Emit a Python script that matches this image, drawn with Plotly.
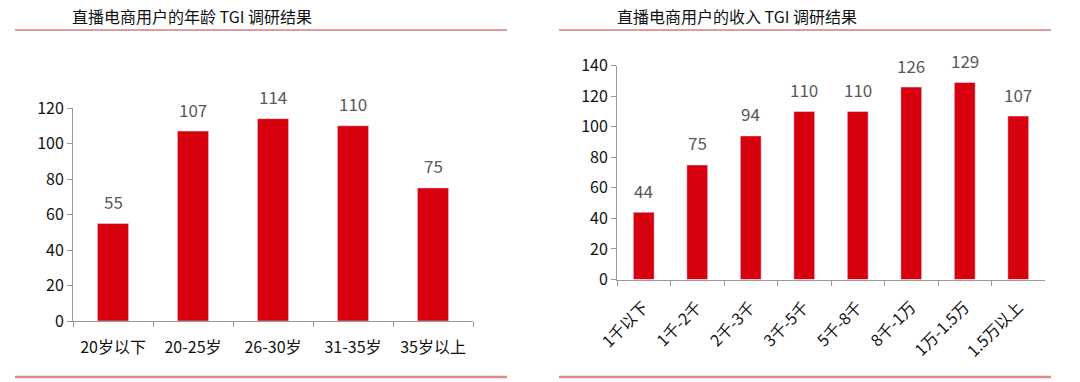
import plotly.graph_objects as go

W, H = 1080, 382

age_cats = ["20岁以下", "20-25岁", "26-30岁", "31-35岁", "35岁以上"]
age_vals = [55, 107, 114, 110, 75]
inc_cats = ["1千以下", "1千-2千", "2千-3千", "3千-5千", "5千-8千", "8千-1万", "1万-1.5万", "1.5万以上"]
inc_vals = [44, 75, 94, 110, 110, 126, 129, 107]
left_title = "直播电商用户的年龄 TGI 调研结果"
right_title = "直播电商用户的收入 TGI 调研结果"

BAR = "#d7000f"
AX = "#9a9a9a"
FONT = "Noto Sans CJK SC, Liberation Sans, sans-serif"

def px(x):
    return x / W

def py(y):
    return 1 - y / H

fig = go.Figure()
fig.add_trace(go.Bar(x=age_cats, y=age_vals, marker_color=BAR, width=0.39,
                     xaxis="x", yaxis="y", showlegend=False))
fig.add_trace(go.Bar(x=inc_cats, y=inc_vals, marker_color=BAR, width=0.39,
                     xaxis="x2", yaxis="y2", showlegend=False))

annos = []
for c, v in zip(age_cats, age_vals):
    annos.append(dict(x=c, y=v, xref="x", yref="y", text=str(v), showarrow=False,
                      yanchor="middle", yshift=22,
                      font=dict(family=FONT, size=17, color="#595959")))
for c, v in zip(inc_cats, inc_vals):
    annos.append(dict(x=c, y=v, xref="x2", yref="y2", text=str(v), showarrow=False,
                      yanchor="middle", yshift=22,
                      font=dict(family=FONT, size=17, color="#595959")))
annos.append(dict(x=px(70), y=py(16), xref="paper", yref="paper", text=left_title,
                  showarrow=False, xanchor="left", yanchor="middle",
                  font=dict(family=FONT, size=16, color="#111111")))
annos.append(dict(x=px(615), y=py(16), xref="paper", yref="paper", text=right_title,
                  showarrow=False, xanchor="left", yanchor="middle",
                  font=dict(family=FONT, size=16, color="#111111")))

shapes = []
for x0, x1 in [(15, 507), (559, 1051)]:
    shapes.append(dict(type="line", xref="paper", yref="paper", x0=px(x0), x1=px(x1),
                       y0=py(30), y1=py(30), line=dict(color="#c9343e", width=1.2)))
    shapes.append(dict(type="line", xref="paper", yref="paper", x0=px(x0), x1=px(x1),
                       y0=py(377), y1=py(377), line=dict(color="#e3868c", width=2.5)))

xcommon = dict(showline=True, linecolor=AX, linewidth=1, ticks="outside", tickson="boundaries",
               ticklen=5, tickcolor=AX, showgrid=False, zeroline=False, automargin=False)
ycommon = dict(showline=True, linecolor=AX, linewidth=1, ticks="outside", ticklen=5,
               tickcolor=AX, showgrid=False, zeroline=False, automargin=False,
               tickfont=dict(family=FONT, size=16, color="#111111"))

fig.update_layout(
    width=W, height=H, autosize=False,
    margin=dict(l=0, r=0, t=0, b=0, pad=0),
    paper_bgcolor="white", plot_bgcolor="white",
    xaxis=dict(domain=[px(73), px(473)], anchor="y", ticklabelstandoff=12,
               tickfont=dict(family=FONT, size=16, color="#111111"), **xcommon),
    yaxis=dict(domain=[py(321), py(108)], anchor="x", range=[0, 120], dtick=20, **ycommon),
    xaxis2=dict(domain=[px(617), px(1045)], anchor="y2", tickangle=-45, ticklabelstandoff=11,
                tickfont=dict(family=FONT, size=16, color="#111111"), **xcommon),
    yaxis2=dict(domain=[py(279.5), py(65.7)], anchor="x2", range=[0, 140], dtick=20, **ycommon),
    annotations=annos,
    shapes=shapes,
)

fig.write_html("out.html", config={"displayModeBar": False},
               post_script="document.body.style.margin='0';document.body.style.overflow='hidden';")
